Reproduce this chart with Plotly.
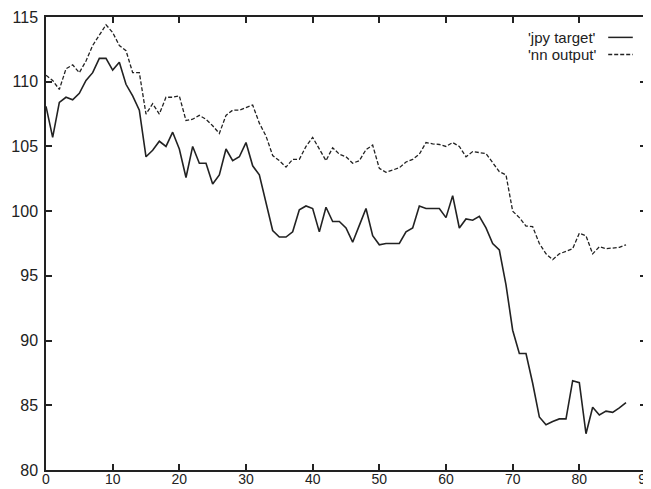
import plotly.graph_objects as go

# time index
steps = list(range(88))

jpy_target = [
    108.1, 105.7, 108.4, 108.8, 108.6, 109.1, 110.1, 110.7, 111.8, 111.8,
    110.9, 111.5, 109.8, 108.9, 107.8, 104.2, 104.7, 105.4, 105.0, 106.1,
    104.8, 102.6, 105.0, 103.7, 103.7, 102.1, 102.8, 104.8, 103.9, 104.2,
    105.3, 103.5, 102.8, 100.7, 98.5, 98.0, 98.0, 98.4, 100.1, 100.4,
    100.2, 98.4, 100.3, 99.2, 99.2, 98.7, 97.6, 98.9, 100.2, 98.1,
    97.4, 97.5, 97.5, 97.5, 98.4, 98.7, 100.4, 100.2, 100.2, 100.2,
    99.5, 101.2, 98.7, 99.4, 99.3, 99.6, 98.7, 97.5, 97.0, 94.3,
    90.8, 89.0, 89.0, 86.7, 84.1, 83.5, 83.75, 83.95, 83.95, 86.9,
    86.75, 82.8, 84.85, 84.25, 84.55, 84.45, 84.8, 85.2,
]

nn_output = [
    110.5, 110.1, 109.4, 111.0, 111.3, 110.7, 111.6, 112.8, 113.6, 114.4,
    113.8, 112.8, 112.4, 110.7, 110.7, 107.5, 108.3, 107.5, 108.8, 108.8,
    108.9, 107.0, 107.1, 107.4, 107.1, 106.6, 106.0, 107.4, 107.8, 107.8,
    108.0, 108.2, 106.8, 105.8, 104.3, 103.9, 103.4, 104.0, 104.0, 105.0,
    105.7, 104.8, 103.9, 104.9, 104.4, 104.2, 103.7, 103.9, 104.75, 105.1,
    103.3, 103.0, 103.15, 103.35, 103.8, 104.0, 104.4, 105.3, 105.2, 105.15,
    105.0, 105.3, 105.0, 104.2, 104.6, 104.5, 104.45, 103.75, 103.05, 102.8,
    100.0, 99.5, 98.85, 98.8, 97.5, 96.7, 96.25, 96.7, 96.9, 97.1,
    98.3, 98.1, 96.7, 97.25, 97.1, 97.15, 97.2, 97.4,
]

x_ticks = [0, 10, 20, 30, 40, 50, 60, 70, 80, 90]
y_ticks = [80, 85, 90, 95, 100, 105, 110, 115]
series_names = ["'jpy target'", "'nn output'"]

INK = "#222222"
FONT = "Liberation Sans, Arial, Helvetica, sans-serif"

fig = go.Figure()
fig.add_trace(go.Scatter(x=steps, y=jpy_target, mode="lines", name=series_names[0],
                         line=dict(color=INK, width=1.6), showlegend=False))
fig.add_trace(go.Scatter(x=steps, y=nn_output, mode="lines", name=series_names[1],
                         line=dict(color=INK, width=1.3, dash="4px,2px"), showlegend=False))

axis_common = dict(
    showgrid=False, zeroline=False, showline=True, linecolor=INK, linewidth=1.5,
    mirror="ticks", ticks="inside", ticklen=6, tickwidth=1.5, tickcolor=INK,
    ticklabeloverflow="allow", automargin=False,
)

# the page body has an 8px margin, so the figure is sized to end at the window edge
fig.update_layout(
    width=643, height=481,
    margin=dict(l=38, r=5, t=9, b=19),
    paper_bgcolor="white", plot_bgcolor="white",
    xaxis=dict(range=[0, 90], tickvals=x_ticks, ticklabelstandoff=-5,
               tickfont=dict(family=FONT, size=14, color=INK), **axis_common),
    yaxis=dict(range=[80, 115], tickvals=y_ticks, ticklabelstandoff=3,
               tickfont=dict(family=FONT, size=16, color=INK), **axis_common),
)

# gnuplot-style key: label then line sample, top right
key_rows = [0.955, 0.917]
dashes = ["solid", "4px,2px"]
for name, yk, d in zip(series_names, key_rows, dashes):
    fig.add_annotation(xref="paper", yref="paper", x=0.92, y=yk, text=name,
                       showarrow=False, xanchor="right", yanchor="middle",
                       font=dict(family=FONT, size=15, color=INK))
    fig.add_shape(type="line", xref="paper", yref="paper", x0=0.937, x1=0.978,
                  y0=yk, y1=yk, line=dict(color=INK, width=1.5, dash=d))

fig.write_html("out.html")
